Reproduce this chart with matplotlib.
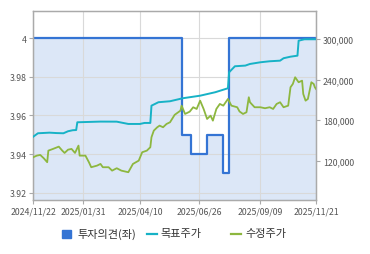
import matplotlib.pyplot as plt
from matplotlib.patches import Rectangle
from matplotlib.lines import Line2D

plt.rcParams['font.family'] = ['Noto Sans CJK KR', 'DejaVu Sans']

# x axis = trading day index
xtick_pos = [0, 43, 92, 143, 196, 244]
xtick_labels = ['2024/11/22', '2025/01/31', '2025/04/10', '2025/06/26', '2025/09/09', '2025/11/21']

# 투자의견 (left axis), step values
opinion_x = [0, 128, 136, 150, 164, 169, 244]
opinion_y = [4, 3.95, 3.94, 3.95, 3.93, 4, 4]

# 목표주가 (right axis)
target_x = [0, 4, 14, 20, 26, 30, 34, 37, 38, 58, 72, 82, 92, 96, 101, 102, 108, 118,
            129, 144, 157, 168, 169, 174, 183, 187, 196, 204, 213, 216, 222, 228, 229, 234, 244]
target_y = [155700, 160700, 161600, 161000, 160700, 163700, 165200, 165500, 177000, 178000,
            177900, 174500, 174500, 176000, 176000, 201600, 206700, 208150, 212600, 216400,
            221500, 227400, 251100, 260000, 261000, 263400, 265900, 267400, 268300, 271900,
            274200, 275700, 297900, 300000, 300000]

# 수정주가 (right axis)
price_x = [0, 3, 6, 9, 12, 13, 17, 22, 25, 27, 30, 33, 36, 39, 40, 45, 48, 50, 55, 58,
           60, 65, 68, 72, 76, 82, 86, 91, 94, 98, 101, 102, 104, 107, 109, 112, 115, 118,
           122, 127, 128, 131, 135, 138, 141, 144, 147, 150, 153, 155, 158, 161, 164, 167,
           168, 171, 176, 178, 181, 184, 186, 187, 191, 196, 200, 204, 207, 210, 213, 216,
           220, 222, 224, 226, 229, 232, 233, 235, 237, 240, 242, 243, 244]
price_y = [125200, 127550, 128600, 123700, 117800, 134960, 137500, 140900, 135000, 131550,
           136400, 137500, 131550, 142400, 127550, 127550, 117800, 110370, 112740, 115260,
           110370, 110370, 105330, 108900, 105330, 102960, 115260, 120150, 132600, 134960,
           140000, 154800, 164600, 169630, 172000, 169630, 174500, 177000,
           188000, 194220, 201600, 189330, 192740, 199260, 196740, 209000, 196740, 181930,
           186800, 179400, 196740, 204150, 201630, 209000,
           211550, 201630, 199260, 193000, 189330, 191850, 214070, 206670, 199260, 199260,
           197780, 199260, 196740, 204150, 206670, 199260,
           201630, 228890, 233780, 243700, 236300, 238660, 218960, 209000, 211550, 236300,
           233780, 228890, 226370]

blue = '#3474d4'
teal = '#17b2c6'
green = '#8db73f'
fill = '#dce7f7'
gray = '#aaaaaa'
txt = '#555555'

fig = plt.figure(figsize=(3.7, 2.55), dpi=100)
ax = fig.add_axes([33.3 / 370, 1 - 201 / 255, (316 - 33.3) / 370, (201 - 12) / 255])

ylo = 3.9162
ax.fill_between(opinion_x, opinion_y, ylo, step='post', color=fill, lw=0, zorder=0.3)
ax.step(opinion_x, opinion_y, where='post', color=blue, lw=1.6, zorder=2)
ax.set_xlim(0, 244)
ax.set_ylim(ylo, 4.014)
ax.set_yticks([3.92, 3.94, 3.96, 3.98, 4])
ax.set_yticklabels(['3.92', '3.94', '3.96', '3.98', '4'])
ax.set_xticks(xtick_pos)
ax.set_xticklabels(xtick_labels)
ax.grid(True, color='#d9d9d9', lw=0.8)
ax.set_axisbelow(True)

ax2 = ax.twinx()
ax2.plot(target_x, target_y, color=teal, lw=1.4, zorder=3)
ax2.plot(price_x, price_y, color=green, lw=1.3, zorder=3)
ax2.set_ylim(61800, 341900)
ax2.set_yticks([120000, 180000, 240000, 300000])
ax2.set_yticklabels(['120,000', '180,000', '240,000', '300,000'])
ax2.set_xlim(0, 244)

for a in (ax, ax2):
    for s in a.spines.values():
        s.set_color(gray)
        s.set_linewidth(0.9)
    a.tick_params(colors=gray, labelcolor=txt, labelsize=6.3, length=3, width=0.8, pad=2)

# legend drawn by hand
fig.add_artist(Rectangle((62.3 / 370, 1 - 239 / 255), 8.4 / 370, 8.4 / 255,
                         transform=fig.transFigure, color=blue))
fig.text(77 / 370, 1 - 234.5 / 255, '투자의견(좌)', fontsize=8, color='#333333', va='center')
fig.add_artist(Line2D([146.7 / 370, 156.7 / 370], [1 - 235 / 255] * 2,
                      transform=fig.transFigure, color=teal, lw=1.6))
fig.text(160 / 370, 1 - 234.5 / 255, '목표주가', fontsize=8, color='#333333', va='center')
fig.add_artist(Line2D([230.7 / 370, 240.7 / 370], [1 - 235 / 255] * 2,
                      transform=fig.transFigure, color=green, lw=1.6))
fig.text(245 / 370, 1 - 234.5 / 255, '수정주가', fontsize=8, color='#333333', va='center')

fig.savefig('out.png', dpi=100)
